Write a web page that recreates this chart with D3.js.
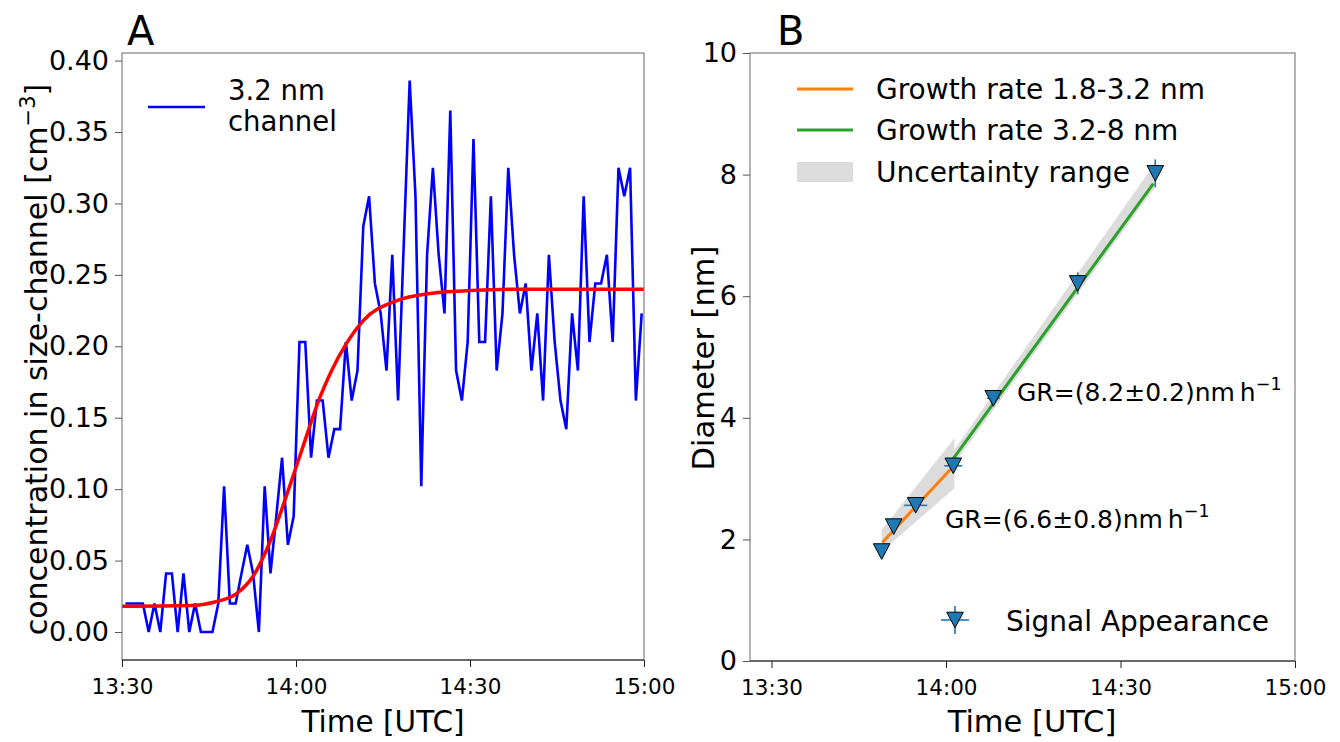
<!DOCTYPE html>
<html>
<head>
<meta charset="utf-8">
<script src="https://cdn.jsdelivr.net/npm/d3@7"></script>
<style>
  body { margin: 0; background: #fff; }
  svg text { font-family: "DejaVu Sans", sans-serif; fill: #000; }
</style>
</head>
<body>
<div id="chart"></div>
<script>
// ---- data (minutes after 13:30 UTC) ----
const baseTime = new Date(Date.UTC(2020, 0, 1, 13, 30));
const channelStart = 0.6;   // first sample, minutes after 13:30
const channelStep = 1;      // one sample per minute
const channelValues = [
  0.020, 0.020, 0.020, 0.020, 0.000, 0.020, 0.000, 0.041, 0.041, 0.000,
  0.041, 0.000, 0.020, 0.000, 0.000, 0.000, 0.020, 0.102, 0.020, 0.020,
  0.041, 0.061, 0.041, 0.000, 0.102, 0.041, 0.081, 0.122, 0.061, 0.081,
  0.203, 0.203, 0.122, 0.162, 0.162, 0.122, 0.142, 0.142, 0.203, 0.162,
  0.183, 0.284, 0.305, 0.244, 0.223, 0.183, 0.264, 0.162, 0.274, 0.386,
  0.305, 0.102, 0.264, 0.325, 0.264, 0.223, 0.365, 0.183, 0.162, 0.203,
  0.345, 0.203, 0.203, 0.305, 0.183, 0.223, 0.325, 0.264, 0.223, 0.244,
  0.183, 0.223, 0.162, 0.264, 0.203, 0.162, 0.142, 0.223, 0.183, 0.305,
  0.203, 0.244, 0.244, 0.264, 0.203, 0.325, 0.305, 0.325, 0.162, 0.223
];
const fitMinutes = [0, 12, 16, 19.8, 22.6, 25.5, 28.4, 31.3, 34.1, 35.9, 38.7, 41.6, 47.4, 53.1, 60, 70, 90];
const fitValues  = [0.018, 0.0185, 0.021, 0.027, 0.039, 0.063, 0.096, 0.131, 0.164, 0.181, 0.202, 0.218, 0.232, 0.237, 0.239, 0.240, 0.240];

const signalMinutes = [18.94, 21.01, 24.79, 31.25, 38.13, 52.64, 65.98];
const signalDiam    = [1.80, 2.21, 2.56, 3.21, 4.32, 6.21, 8.02];
const signalTimeErr = [0, 0, 1.98, 1.55, 1.13, 0, 0];
const signalDiamErr = [0, 0, 0, 0, 0, 0.18, 0.23];

const fitSmallMinutes = [19.05, 31.43];
const fitSmallDiam    = [1.95, 3.22];
const fitLargeMinutes = [31.25, 65.64];
const fitLargeDiam    = [3.33, 7.85];
const bandSmallMinutes = [18.94, 31.43];
const bandSmallLow     = [1.80, 2.84];
const bandSmallHigh    = [2.155, 3.663];
const bandLargeMinutes = [31.25, 66.0];
const bandLargeLow     = [3.22, 7.80];
const bandLargeHigh    = [3.45, 8.20];

const yTicksA = [0, 0.05, 0.10, 0.15, 0.20, 0.25, 0.30, 0.35, 0.40];
const yTicksB = [0, 2, 4, 6, 8, 10];

const toTime = m => new Date(baseTime.getTime() + m * 60000);

// ---- layout ----
const width = 1340, height = 742;
const svg = d3.select("#chart").append("svg")
  .attr("width", width).attr("height", height);

const timeTicks = [0, 30, 60, 90].map(toTime);
const fmt = d3.utcFormat("%H:%M");

function frame(g, left, right, top, bottom) {
  g.append("rect")
    .attr("x", left).attr("y", top)
    .attr("width", right - left).attr("height", bottom - top)
    .attr("fill", "none").attr("stroke", "#808080").attr("stroke-width", 1.2);
  g.append("line")
    .attr("x1", left).attr("x2", right).attr("y1", bottom).attr("y2", bottom)
    .attr("stroke", "#222").attr("stroke-width", 1.2);
}

function xAxis(g, x, bottom) {
  const ax = g.append("g").attr("transform", `translate(0,${bottom})`)
    .call(d3.axisBottom(x).tickValues(timeTicks).tickFormat(fmt).tickSize(7).tickPadding(12));
  ax.select(".domain").remove();
  ax.selectAll("line").attr("stroke", "#222");
  ax.selectAll("text").style("font-size", "21.5px");
}

function yAxis(g, y, left, ticks, format) {
  const ax = g.append("g").attr("transform", `translate(${left},0)`)
    .call(d3.axisLeft(y).tickValues(ticks).tickFormat(format).tickSize(7).tickPadding(6));
  ax.select(".domain").remove();
  ax.selectAll("line").attr("stroke", "#555");
  ax.selectAll("text").style("font-size", "27px");
}

// ================= Panel A =================
const A = { left: 122, right: 644, top: 53, bottom: 660 };
const xA = d3.scaleUtc().domain([toTime(0), toTime(90)]).range([A.left, A.right]);
const yA = d3.scaleLinear().domain([-0.0196, 0.4053]).range([A.bottom, A.top]);
const gA = svg.append("g");

const channel = channelValues.map((v, i) => ({ t: toTime(channelStart + i * channelStep), v }));
const fit = fitMinutes.map((m, i) => ({ t: toTime(m), v: fitValues[i] }));

gA.append("path").datum(channel)
  .attr("fill", "none").attr("stroke", "#0000ff").attr("stroke-width", 2.6)
  .attr("d", d3.line().x(d => xA(d.t)).y(d => yA(d.v)));

gA.append("path").datum(fit)
  .attr("fill", "none").attr("stroke", "#ff0000").attr("stroke-width", 3.5)
  .attr("d", d3.line().curve(d3.curveMonotoneX).x(d => xA(d.t)).y(d => yA(d.v)));

frame(gA, A.left, A.right, A.top, A.bottom);
xAxis(gA, xA, A.bottom);
yAxis(gA, yA, A.left, yTicksA, d3.format(".2f"));

gA.append("text").attr("x", 127).attr("y", 45).style("font-size", "40px").text("A");

gA.append("text")
  .attr("transform", `translate(47,${(A.top + A.bottom) / 2 + 3}) rotate(-90)`)
  .attr("text-anchor", "middle").style("font-size", "30px")
  .call(t => {
    t.append("tspan").text("concentration in size-channel [cm");
    t.append("tspan").attr("dy", -12).style("font-size", "21px").text("−3");
    t.append("tspan").attr("dy", 12).text("]");
  });

gA.append("text").attr("x", A.left + (A.right - A.left) / 2).attr("y", 732)
  .attr("text-anchor", "middle").style("font-size", "29.5px").text("Time [UTC]");

// legend A
gA.append("line").attr("x1", 148).attr("x2", 205).attr("y1", 107).attr("y2", 107)
  .attr("stroke", "#0000ff").attr("stroke-width", 2.6);
gA.append("text").attr("x", 228).attr("y", 100).style("font-size", "27.5px").text("3.2 nm");
gA.append("text").attr("x", 228).attr("y", 131).style("font-size", "27.5px").text("channel");

// ================= Panel B =================
const B = { left: 750, right: 1295, top: 53, bottom: 661 };
const xB = d3.scaleUtc().domain([toTime(-3.7), toTime(90)]).range([B.left, B.right]);
const yB = d3.scaleLinear().domain([0, 10]).range([B.bottom, B.top]);
const gB = svg.append("g");

const bandArea = d3.area().x(d => xB(d.t)).y0(d => yB(d.lo)).y1(d => yB(d.hi));
const bandSmall = bandSmallMinutes.map((m, i) => ({ t: toTime(m), lo: bandSmallLow[i], hi: bandSmallHigh[i] }));
const bandLarge = bandLargeMinutes.map((m, i) => ({ t: toTime(m), lo: bandLargeLow[i], hi: bandLargeHigh[i] }));
gB.append("path").datum(bandLarge).attr("fill", "#dcdcdc").attr("d", bandArea);
gB.append("path").datum(bandSmall).attr("fill", "#dcdcdc").attr("d", bandArea);

const fitLine = d3.line().x(d => xB(d.t)).y(d => yB(d.d));
gB.append("path").datum(fitSmallMinutes.map((m, i) => ({ t: toTime(m), d: fitSmallDiam[i] })))
  .attr("fill", "none").attr("stroke", "#ff7f0e").attr("stroke-width", 3).attr("d", fitLine);
gB.append("path").datum(fitLargeMinutes.map((m, i) => ({ t: toTime(m), d: fitLargeDiam[i] })))
  .attr("fill", "none").attr("stroke", "#2ca02c").attr("stroke-width", 3).attr("d", fitLine);

const signals = signalMinutes.map((m, i) => ({
  m, d: signalDiam[i], te: signalTimeErr[i], de: signalDiamErr[i]
}));
const tri = "M-8.3,-7.8L8.3,-7.8L0,7.8Z";

gB.append("g").selectAll("line").data(signals.filter(s => s.te > 0)).join("line")
  .attr("x1", s => xB(toTime(s.m - s.te))).attr("x2", s => xB(toTime(s.m + s.te)))
  .attr("y1", s => yB(s.d)).attr("y2", s => yB(s.d))
  .attr("stroke", "#1f77b4").attr("stroke-width", 1.6);
gB.append("g").selectAll("line").data(signals.filter(s => s.de > 0)).join("line")
  .attr("x1", s => xB(toTime(s.m))).attr("x2", s => xB(toTime(s.m)))
  .attr("y1", s => yB(s.d - s.de)).attr("y2", s => yB(s.d + s.de))
  .attr("stroke", "#1f77b4").attr("stroke-width", 1.6);
gB.append("g").selectAll("path").data(signals).join("path")
  .attr("transform", s => `translate(${xB(toTime(s.m))},${yB(s.d)})`)
  .attr("d", tri).attr("fill", "#1f77b4").attr("stroke", "#000").attr("stroke-width", 1);

frame(gB, B.left, B.right, B.top, B.bottom);
xAxis(gB, xB, B.bottom);
yAxis(gB, yB, B.left, yTicksB, d3.format("d"));

gB.append("text").attr("x", 777).attr("y", 45).style("font-size", "40px").text("B");

gB.append("text")
  .attr("transform", `translate(714,358) rotate(-90)`)
  .attr("text-anchor", "middle").style("font-size", "30.5px").text("Diameter [nm]");
gB.append("text").attr("x", 1032).attr("y", 732)
  .attr("text-anchor", "middle").style("font-size", "30.5px").text("Time [UTC]");

// annotations
function grLabel(x, y, txt) {
  const t = gB.append("text").attr("x", x).attr("y", y).style("font-size", "25px");
  t.append("tspan").text(txt + "nm");
  t.append("tspan").attr("dx", 5).text("h");
  t.append("tspan").attr("dy", -11).style("font-size", "17.5px").text("−1");
}
grLabel(1017, 401, "GR=(8.2±0.2)");
grLabel(945, 528, "GR=(6.6±0.8)");

// legend B
const legB = [
  { label: "Growth rate 1.8-3.2 nm", color: "#ff7f0e", y: 89 },
  { label: "Growth rate 3.2-8 nm", color: "#2ca02c", y: 130 }
];
legB.forEach(l => {
  gB.append("line").attr("x1", 797).attr("x2", 853).attr("y1", l.y).attr("y2", l.y)
    .attr("stroke", l.color).attr("stroke-width", 3);
  gB.append("text").attr("x", 876).attr("y", l.y + 10).style("font-size", "28px").text(l.label);
});
gB.append("rect").attr("x", 797).attr("y", 162).attr("width", 56).attr("height", 20).attr("fill", "#dcdcdc");
gB.append("text").attr("x", 876).attr("y", 182).style("font-size", "28px").text("Uncertainty range");

// signal legend
const lg = gB.append("g").attr("transform", "translate(955,620)");
lg.append("line").attr("x1", -14).attr("x2", 14).attr("stroke", "#1f77b4").attr("stroke-width", 1.6);
lg.append("line").attr("y1", -14).attr("y2", 14).attr("stroke", "#1f77b4").attr("stroke-width", 1.6);
lg.append("path").attr("d", tri).attr("fill", "#1f77b4").attr("stroke", "#000").attr("stroke-width", 1);
gB.append("text").attr("x", 1006).attr("y", 631).style("font-size", "28px").text("Signal Appearance");
</script>
</body>
</html>
